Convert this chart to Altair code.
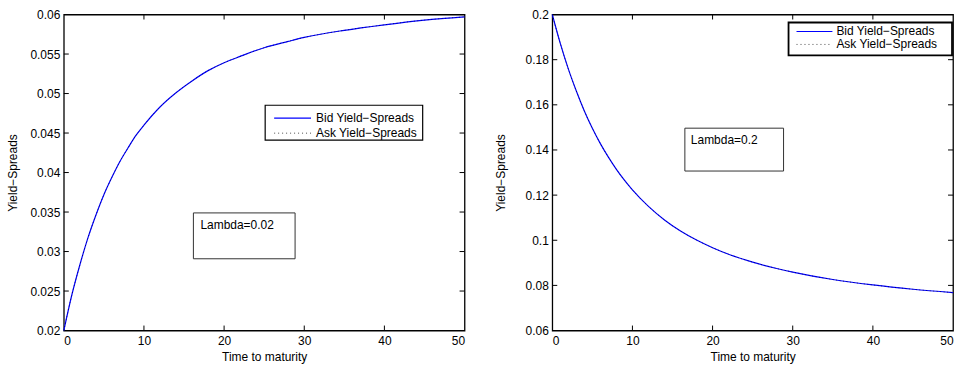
import altair as alt
import pandas as pd

# ---- data ----
t_vals = [0, 1, 2, 3, 4, 5, 6, 7, 8, 9, 10, 12, 14, 16, 18, 20, 22, 25, 28, 30, 35, 40, 45, 50]

left_bid = [0.0200, 0.0245, 0.0283, 0.0317, 0.0346, 0.0372, 0.0394, 0.0414, 0.0431, 0.0447,
            0.0460, 0.0483, 0.0501, 0.0516, 0.0529, 0.0539, 0.0547, 0.0558, 0.0566, 0.0571,
            0.0580, 0.0587, 0.0593, 0.0597]
left_ask = [0.0200, 0.0245, 0.0283, 0.0317, 0.0346, 0.0372, 0.0394, 0.0414, 0.0431, 0.0447,
            0.0460, 0.0483, 0.0501, 0.0516, 0.0529, 0.0539, 0.0547, 0.0558, 0.0566, 0.0571,
            0.0580, 0.0587, 0.0593, 0.0597]

right_bid = [0.2000, 0.1872, 0.1759, 0.1661, 0.1573, 0.1496, 0.1428, 0.1368, 0.1314, 0.1266,
             0.1223, 0.1150, 0.1090, 0.1041, 0.1001, 0.0967, 0.0938, 0.0903, 0.0875, 0.0859,
             0.0826, 0.0802, 0.0783, 0.0768]
right_ask = [0.2000, 0.1872, 0.1759, 0.1661, 0.1573, 0.1496, 0.1428, 0.1368, 0.1314, 0.1266,
             0.1223, 0.1150, 0.1090, 0.1041, 0.1001, 0.0967, 0.0938, 0.0903, 0.0875, 0.0859,
             0.0826, 0.0802, 0.0783, 0.0768]

x_ticks = [0, 10, 20, 30, 40, 50]
left_y_ticks = [0.02, 0.025, 0.03, 0.035, 0.04, 0.045, 0.05, 0.055, 0.06]
right_y_ticks = [0.06, 0.08, 0.1, 0.12, 0.14, 0.16, 0.18, 0.2]

legend_labels = ["Bid Yield\u2212Spreads", "Ask Yield\u2212Spreads"]
lambda_labels = ["Lambda=0.02", "Lambda=0.2"]
x_title = "Time to maturity"
y_title = "Yield\u2212Spreads"

W, H = 402, 317
FONT = "Liberation Sans"
TL = 5  # inward tick length


def panel(bid, ask, yticks, lam_text, lam_box, leg, leg_sw, title_pad):
    df = pd.DataFrame({
        "t": t_vals + t_vals,
        "y": bid + ask,
        "series": ["Bid"] * len(bid) + ["Ask"] * len(ask),
    })
    xs = alt.Scale(domain=[x_ticks[0], x_ticks[-1]], nice=False, zero=False)
    ys = alt.Scale(domain=[yticks[0], yticks[-1]], nice=False, zero=False)
    xaxis = alt.Axis(values=x_ticks, format="d", title=x_title, labelPadding=5, titlePadding=5)
    yaxis = alt.Axis(values=yticks, format="~g", title=y_title, labelPadding=4, titlePadding=title_pad)
    X = alt.X("t:Q", scale=xs, axis=xaxis)
    Y = alt.Y("y:Q", scale=ys, axis=yaxis)

    bid_line = alt.Chart(df).transform_filter(alt.datum.series == "Bid").mark_line(
        color="#0000ff", strokeWidth=1.2, interpolate="monotone").encode(x=X, y=Y)
    ask_line = alt.Chart(df).transform_filter(alt.datum.series == "Ask").mark_line(
        color="black", strokeWidth=1, strokeDash=[1, 2.5], interpolate="monotone", opacity=0.55).encode(x=X, y=Y)

    inner_y = yticks[1:-1]
    inner_x = x_ticks[1:-1]
    ydf = pd.DataFrame({"t": [x_ticks[0]] * len(inner_y), "y": inner_y})
    xdf = pd.DataFrame({"t": inner_x, "y": [yticks[0]] * len(inner_x)})
    ytl = alt.Chart(ydf).mark_rule(color="black").encode(y=Y, x=alt.value(0), x2=alt.value(TL))
    ytr = alt.Chart(ydf).mark_rule(color="black").encode(y=Y, x=alt.value(W - TL), x2=alt.value(W))
    xtb = alt.Chart(xdf).mark_rule(color="black").encode(x=X, y=alt.value(H - TL), y2=alt.value(H))
    xtt = alt.Chart(xdf).mark_rule(color="black").encode(x=X, y=alt.value(0), y2=alt.value(TL))

    one = pd.DataFrame({"a": [0]})
    # legend
    lx1, lx2, ly1, ly2, sx1, sx2, tx, r1, r2 = leg
    leg_box = alt.Chart(one).mark_rect(fill="white", stroke="black", strokeWidth=leg_sw).encode(
        x=alt.value(lx1), x2=alt.value(lx2), y=alt.value(ly1), y2=alt.value(ly2))
    leg_bid = alt.Chart(one).mark_rule(color="#0000ff", strokeWidth=1.2).encode(
        x=alt.value(sx1), x2=alt.value(sx2), y=alt.value(r1))
    leg_ask = alt.Chart(one).mark_rule(color="black", strokeWidth=1, strokeDash=[1, 3], opacity=0.7).encode(
        x=alt.value(sx1), x2=alt.value(sx2), y=alt.value(r2))
    leg_t1 = alt.Chart(one).mark_text(align="left", baseline="middle", font=FONT, fontSize=12, color="black").encode(
        x=alt.value(tx), y=alt.value(r1), text=alt.value(legend_labels[0]))
    leg_t2 = alt.Chart(one).mark_text(align="left", baseline="middle", font=FONT, fontSize=12, color="black").encode(
        x=alt.value(tx), y=alt.value(r2), text=alt.value(legend_labels[1]))

    # lambda annotation
    bx1, bx2, by1, by2, btx, bty = lam_box
    lam_rect = alt.Chart(one).mark_rect(fill="white", stroke="#333333", strokeWidth=1).encode(
        x=alt.value(bx1), x2=alt.value(bx2), y=alt.value(by1), y2=alt.value(by2))
    lam_t = alt.Chart(one).mark_text(align="left", baseline="middle", font=FONT, fontSize=12, color="black").encode(
        x=alt.value(btx), y=alt.value(bty), text=alt.value(lam_text))

    return alt.layer(bid_line, ask_line, ytl, ytr, xtb, xtt, lam_rect, lam_t,
                     leg_box, leg_bid, leg_ask, leg_t1, leg_t2).properties(width=W, height=H)


left = panel(left_bid, left_ask, left_y_ticks, lambda_labels[0],
             (130, 232, 199, 245, 137, 211),
             (202, 360, 91, 126, 211, 248, 253, 104, 119), 1.2, 10)
right = panel(right_bid, right_ask, right_y_ticks, lambda_labels[1],
              (133, 232, 114, 157, 139, 126),
              (237, 401, 8, 41, 245, 281, 285, 17, 30), 1.8, 18)

chart = alt.hconcat(left, right, spacing=24).properties(
    padding={"left": 6, "top": 7, "right": 5, "bottom": 5},
    background="white",
).configure_view(stroke="black", strokeWidth=1.3).configure_axis(
    domain=False, ticks=False, grid=False,
    labelFont=FONT, labelFontSize=12, labelColor="black",
    titleFont=FONT, titleFontSize=12, titleFontWeight="normal", titleColor="black",
)

chart.save("out.html", embed_options={"renderer": "svg", "actions": False})
